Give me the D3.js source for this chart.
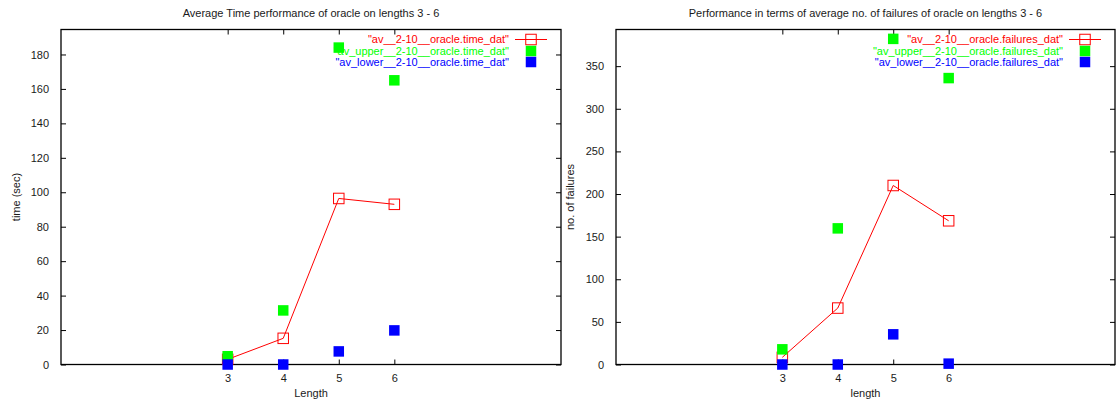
<!DOCTYPE html>
<html>
<head>
<meta charset="utf-8">
<script src="https://cdn.jsdelivr.net/npm/d3@7"></script>
<style>
  body { margin: 0; background: #fff; }
  svg { display: block; font-family: "Liberation Sans", Arial, sans-serif; }
</style>
</head>
<body>
<svg width="1116" height="402"></svg>
<script>
// data
const lengths = [3, 4, 5, 6];
const xTicks = [3, 4, 5, 6];

const timeAvg = [3, 15.2, 96.4, 93.0];
const timeUpper = [4.8, 31.4, 184, 165];
const timeLower = [0, 0, 7.6, 19.8];
const timeTicks = [0, 20, 40, 60, 80, 100, 120, 140, 160, 180];

const failAvg = [8.4, 66.2, 210, 168.6];
const failUpper = [17.8, 159.7, 382, 336];
const failLower = [0, 0, 35.4, 1];
const failTicks = [0, 50, 100, 150, 200, 250, 300, 350];

const svg = d3.select("svg");
const textColor = "#1a1a1a";

const drawPanel = (opt) => {
  const { left, right, top, bottom } = opt;

  const x = d3.scaleLinear().domain([0, 9]).range([left, right]);
  const y = d3.scaleLinear().domain([0, opt.yMax]).range([bottom, top]);

  const g = svg.append("g");

  // frame
  g.append("rect")
    .attr("x", left)
    .attr("y", top)
    .attr("width", right - left)
    .attr("height", bottom - top)
    .attr("fill", "none")
    .attr("stroke", "#000")
    .attr("stroke-width", 1.3);

  // axes with inward ticks, labels on left/bottom only
  const yAxis = d3.axisLeft(y).tickValues(opt.yTicks).tickSize(-5).tickPadding(12);
  const xAxis = d3.axisBottom(x).tickValues(xTicks).tickSize(-5).tickPadding(10);

  const ya = g.append("g").attr("transform", `translate(${left},0)`).call(yAxis);
  const xa = g.append("g").attr("transform", `translate(0,${bottom})`).call(xAxis);
  g.append("g").attr("transform", `translate(${right},0)`)
    .call(d3.axisRight(y).tickValues(opt.yTicks).tickSize(-5).tickFormat(""));
  g.append("g").attr("transform", `translate(0,${top})`)
    .call(d3.axisTop(x).tickValues(xTicks).tickSize(-5).tickFormat(""));

  g.selectAll(".domain").remove();
  g.selectAll(".tick line").attr("stroke", "#000").attr("stroke-width", 1);
  g.selectAll(".tick text")
    .attr("fill", textColor)
    .style("font-size", "11px")
    .style("font-family", "Liberation Sans, Arial, sans-serif");

  // title and axis labels
  g.append("text")
    .attr("x", (left + right) / 2)
    .attr("y", 17)
    .attr("text-anchor", "middle")
    .attr("fill", textColor)
    .style("font-size", "11px")
    .text(opt.title);

  g.append("text")
    .attr("x", (left + right) / 2)
    .attr("y", 397)
    .attr("text-anchor", "middle")
    .attr("fill", textColor)
    .style("font-size", "11px")
    .text(opt.xLabel);

  g.append("text")
    .attr("transform", `translate(${opt.yLabelX},${(top + bottom) / 2}) rotate(-90)`)
    .attr("text-anchor", "middle")
    .attr("dy", "0.35em")
    .attr("fill", textColor)
    .style("font-size", "11px")
    .text(opt.yLabel);

  const pts = (vals) => lengths.map((l, i) => [l, vals[i]]);
  const sq = 10.5;

  // average line + open squares
  g.append("path")
    .datum(pts(opt.avg))
    .attr("fill", "none")
    .attr("stroke", "#ff0000")
    .attr("stroke-width", 1)
    .attr("d", d3.line().x((d) => x(d[0])).y((d) => y(d[1])));

  g.selectAll(".avg")
    .data(pts(opt.avg))
    .enter()
    .append("rect")
    .attr("x", (d) => x(d[0]) - sq / 2)
    .attr("y", (d) => y(d[1]) - sq / 2)
    .attr("width", sq)
    .attr("height", sq)
    .attr("fill", "none")
    .attr("stroke", "#ff0000")
    .attr("stroke-width", 1);

  g.selectAll(".up")
    .data(pts(opt.upper))
    .enter()
    .append("rect")
    .attr("x", (d) => x(d[0]) - sq / 2)
    .attr("y", (d) => y(d[1]) - sq / 2)
    .attr("width", sq)
    .attr("height", sq)
    .attr("fill", "#00ff00");

  g.selectAll(".low")
    .data(pts(opt.lower))
    .enter()
    .append("rect")
    .attr("x", (d) => x(d[0]) - sq / 2)
    .attr("y", (d) => y(d[1]) - sq / 2)
    .attr("width", sq)
    .attr("height", sq)
    .attr("fill", "#0000ff");

  // legend
  const keyX = right - 30;
  const textX = right - 52;
  const rows = [
    { label: opt.names[0], color: "#ff0000", y: 39.5 },
    { label: opt.names[1], color: "#00ff00", y: 51 },
    { label: opt.names[2], color: "#0000ff", y: 62 },
  ];

  rows.forEach((r, i) => {
    g.append("text")
      .attr("x", textX)
      .attr("y", r.y)
      .attr("dy", "0.35em")
      .attr("text-anchor", "end")
      .attr("fill", r.color)
      .style("font-size", "11px")
      .text(`"${r.label}"`);

    if (i === 0) {
      g.append("line")
        .attr("x1", keyX - 16)
        .attr("x2", keyX + 16)
        .attr("y1", r.y)
        .attr("y2", r.y)
        .attr("stroke", r.color)
        .attr("stroke-width", 1);
      g.append("rect")
        .attr("x", keyX - sq / 2)
        .attr("y", r.y - sq / 2)
        .attr("width", sq)
        .attr("height", sq)
        .attr("fill", "none")
        .attr("stroke", r.color);
    } else {
      g.append("rect")
        .attr("x", keyX - sq / 2)
        .attr("y", r.y - sq / 2)
        .attr("width", sq)
        .attr("height", sq)
        .attr("fill", r.color);
    }
  });
};

drawPanel({
  left: 61, right: 561, top: 29.5, bottom: 364.5,
  yMax: 194.5,
  yTicks: timeTicks,
  avg: timeAvg, upper: timeUpper, lower: timeLower,
  title: "Average Time performance of oracle on lengths 3 - 6",
  xLabel: "Length",
  yLabel: "time (sec)",
  yLabelX: 16,
  names: [
    "av__2-10__oracle.time_dat",
    "av_upper__2-10__oracle.time_dat",
    "av_lower__2-10__oracle.time_dat",
  ],
});

drawPanel({
  left: 616, right: 1115, top: 29.5, bottom: 364.5,
  yMax: 393,
  yTicks: failTicks,
  avg: failAvg, upper: failUpper, lower: failLower,
  title: "Performance in terms of average no. of failures of oracle on lengths 3 - 6",
  xLabel: "length",
  yLabel: "no. of failures",
  yLabelX: 570,
  names: [
    "av__2-10__oracle.failures_dat",
    "av_upper__2-10__oracle.failures_dat",
    "av_lower__2-10__oracle.failures_dat",
  ],
});
</script>
</body>
</html>
